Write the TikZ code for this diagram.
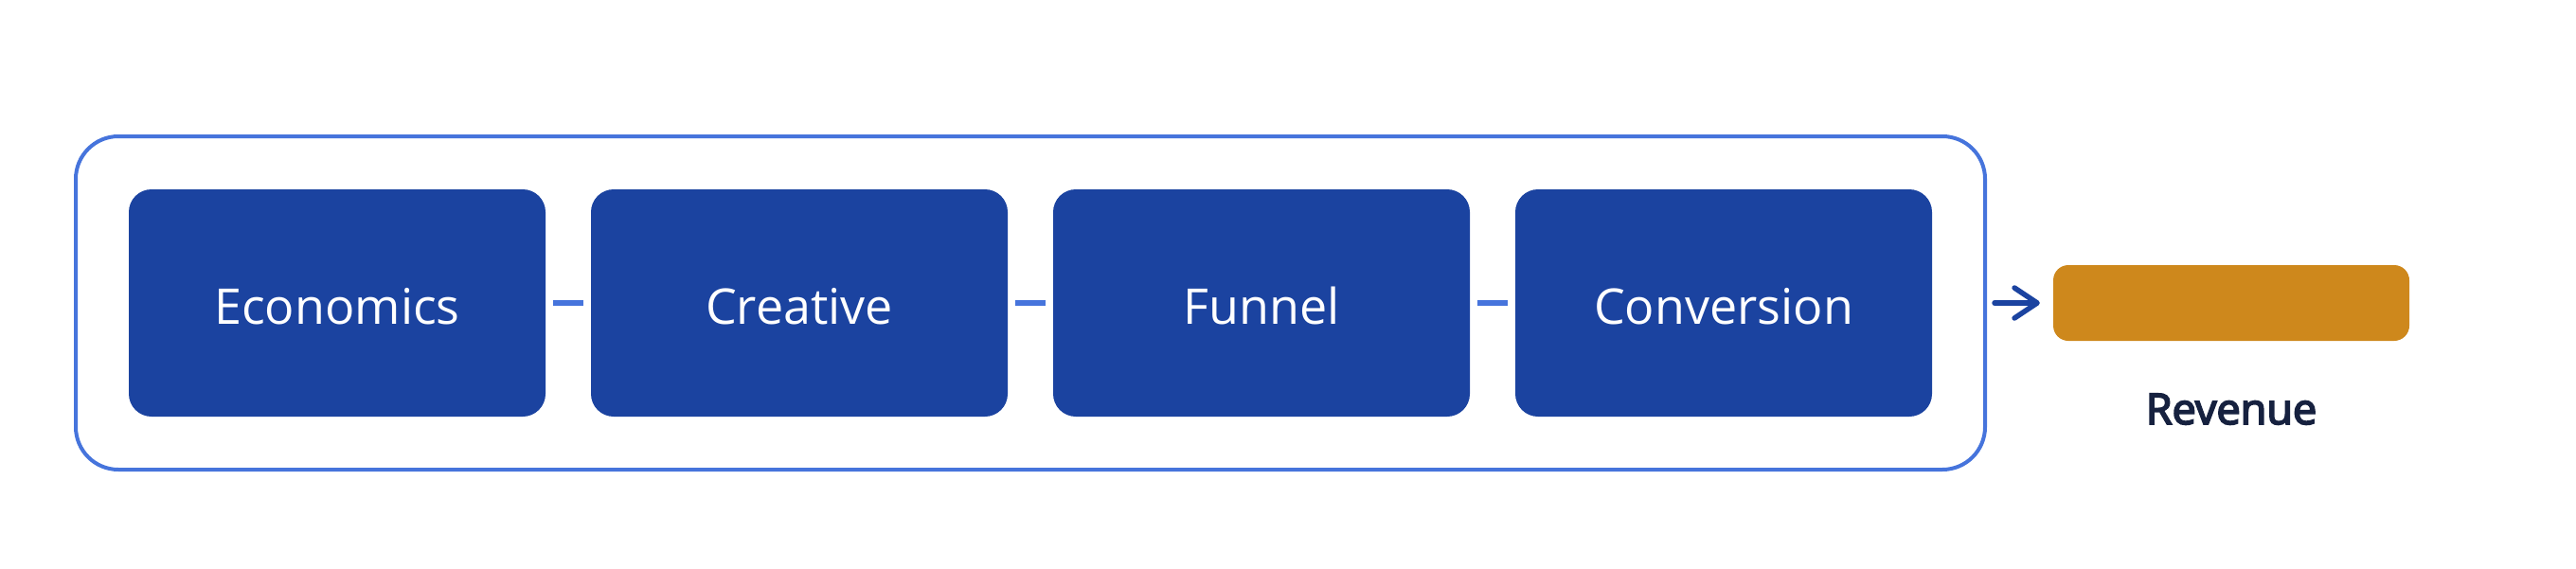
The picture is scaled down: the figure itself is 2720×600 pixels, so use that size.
\documentclass[tikz,border=0pt]{standalone}
\usepackage{fontspec}
\setmainfont{Open Sans}
\newfontfamily\revfont[FakeBold=4]{Open Sans}
\usetikzlibrary{arrows.meta}
\definecolor{stageblue}{HTML}{1B43A0}
\definecolor{frameblue}{HTML}{4674DC}
\definecolor{revorange}{HTML}{CE881C}
\definecolor{navytext}{HTML}{16213F}
\tikzset{
  stagebox/.style={draw=none, fill=stageblue, rounded corners=24pt, minimum width=440pt, minimum height=240pt, inner sep=0pt, text=white, text height=44pt, text depth=0pt, font=\fontsize{52}{60}\selectfont},
  framebox/.style={draw=frameblue, line width=4pt, rounded corners=45pt, minimum width=2016pt, minimum height=352pt, inner sep=0pt},
  revbox/.style={draw=none, fill=revorange, rounded corners=16pt, minimum width=376pt, minimum height=80pt, inner sep=0pt},
  revlabel/.style={text=navytext, font=\fontsize{45}{52}\revfont, inner sep=0pt, anchor=base},
  linkdash/.style={draw=frameblue, line width=6pt},
  flowarrow/.style={draw=stageblue, line width=5.5pt, line cap=round, -{Straight Barb[length=24pt,width=32pt,line cap=round,line join=round]}}
}
\begin{document}
\begin{tikzpicture}[x=1pt,y=-1pt]
\useasboundingbox (0,0) rectangle (2720,600);
\node[framebox] (frame) at (1088,320) {};
\node[stagebox] (econ) at (356,320) {Economics};
\node[stagebox] (crea) at (844,320) {Creative};
\node[stagebox] (funn) at (1332,320) {Funnel};
\node[stagebox] (conv) at (1820,320) {Conversion};
\node[revbox] (rev) at (2356,320) {};
\node[revlabel] (revtext) at (2356,448) {Revenue};
\draw[linkdash] ([xshift=8pt]econ.east) -- ([xshift=-8pt]crea.west);
\draw[linkdash] ([xshift=8pt]crea.east) -- ([xshift=-8pt]funn.west);
\draw[linkdash] ([xshift=8pt]funn.east) -- ([xshift=-8pt]conv.west);
\draw[flowarrow] ([xshift=8pt]frame.east) -- ([xshift=-14pt]rev.west);
\end{tikzpicture}
\end{document}
